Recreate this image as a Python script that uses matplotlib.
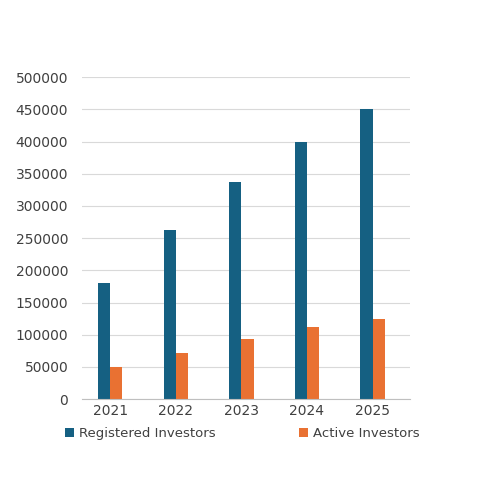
import matplotlib
matplotlib.use("Agg")
import matplotlib.pyplot as plt
import numpy as np

years = ["2021", "2022", "2023", "2024", "2025"]
registered = [181000, 263000, 337000, 400000, 451000]
active = [50000, 72000, 94000, 112000, 124000]

fig = plt.figure(figsize=(4.8, 5.04), dpi=100)
ax = fig.add_axes([0.171, 0.208, 0.683, 0.639])
x = np.arange(len(years))
w = 0.185
b1 = ax.bar(x - w/2, registered, w, color="#156082", label="Registered Investors")
b2 = ax.bar(x + w/2, active, w, color="#E97132", label="Active Investors")
ax.set_ylim(0, 500000)
ax.set_yticks(np.arange(0, 500001, 50000))
ax.set_xticks(x)
ax.set_xticklabels(years)
ax.set_xlim(-0.43, 4.57)
ax.grid(axis="y", color="#D9D9D9", linewidth=0.8)
ax.set_axisbelow(True)
for s in ["top", "right", "left"]:
    ax.spines[s].set_visible(False)
ax.spines["bottom"].set_color("#BFBFBF")
ax.tick_params(length=0, labelsize=10, colors="#404040")
ax.tick_params(axis="y", pad=10)
fig.legend(handles=[b1, b2], loc="center", bbox_to_anchor=(0.505, 0.14), ncol=2,
           frameon=False, fontsize=9.5, handlelength=0.7, handleheight=0.7,
           columnspacing=6.3, handletextpad=0.4, labelcolor="#404040")
fig.savefig("out.png", dpi=100, facecolor="white")
